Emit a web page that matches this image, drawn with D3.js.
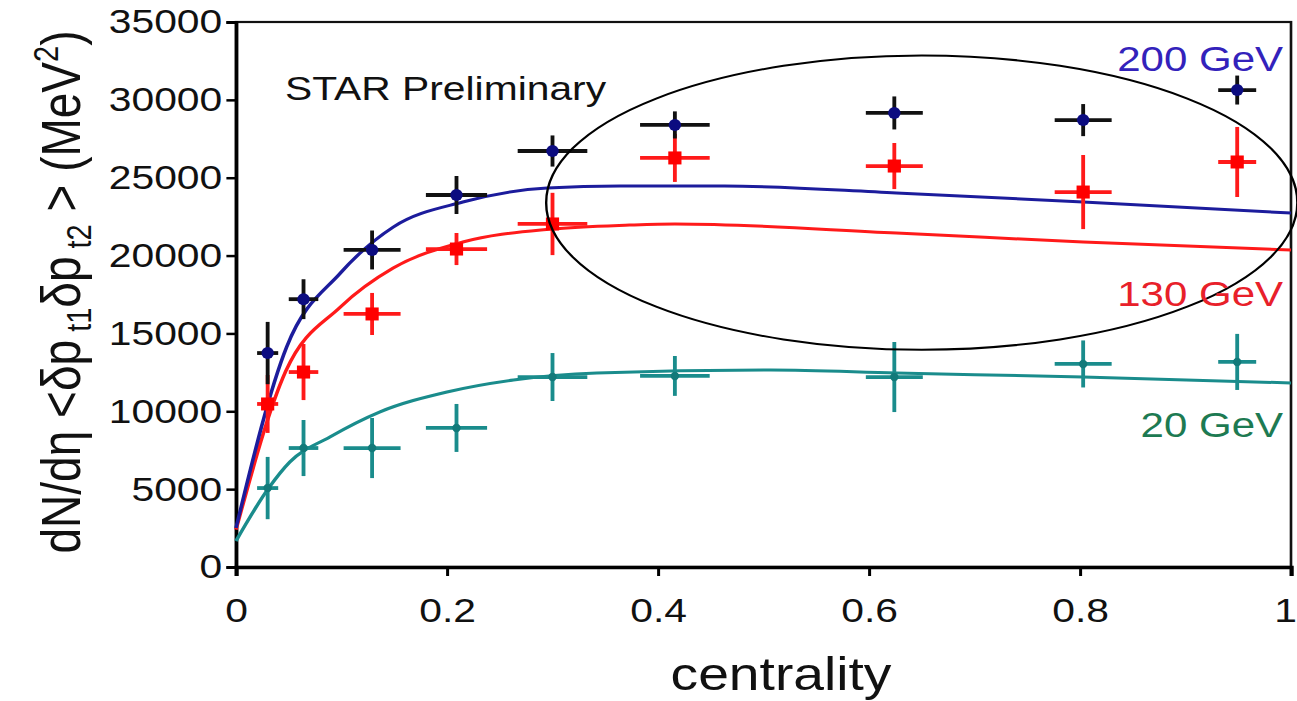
<!DOCTYPE html>
<html>
<head>
<meta charset="utf-8">
<script src="https://cdn.jsdelivr.net/npm/d3@7"></script>
<style>
  body { margin: 0; background: #ffffff; }
  text { font-family: "Liberation Sans", Arial, sans-serif; }
  .axis path, .axis line { stroke: #000; }
</style>
</head>
<body>
<div id="chart"></div>
<script>
// centrality bins (shared by the three energies)
var centrality = [0.030, 0.064, 0.129, 0.209, 0.300, 0.416, 0.624, 0.803, 0.949];
var centralityErr = [0.010, 0.014, 0.027, 0.029, 0.033, 0.033, 0.027, 0.027, 0.018];

// measured points
var data200 = [13740, 17200, 20360, 23890, 26715, 28390, 29160, 28700, 30630];
var err200 = [2000, 1280, 1250, 1220, 1000, 870, 1060, 1030, 930];
var data130 = [10470, 12520, 16250, 20420, 22030, 26270, 25750, 24080, 26010];
var err130 = [1860, 1800, 1350, 1030, 2000, 1540, 1480, 2380, 2250];
var data20 = [5070, 7640, 7640, 8930, 12200, 12270, 12200, 13040, 13170];
var err20 = [2000, 1800, 1930, 1540, 1540, 1280, 2250, 1510, 1800];

// model curves
var model200X = [0, 0.048, 0.099, 0.149, 0.215, 0.295, 0.364, 0.463, 0.626, 0.803, 1.0];
var model200Y = [2500, 14130, 18880, 21830, 23440, 24340, 24470, 24470, 24020, 23440, 22730];
var model130X = [0, 0.047, 0.099, 0.149, 0.215, 0.298, 0.373, 0.416, 0.626, 0.803, 1.0];
var model130Y = [2400, 12550, 16700, 19200, 20870, 21700, 21960, 22030, 21450, 20870, 20360];
var model20X = [0, 0.031, 0.051, 0.089, 0.136, 0.200, 0.263, 0.342, 0.507, 0.626, 0.803, 1.0];
var model20Y = [1670, 5070, 6740, 8350, 9950, 11240, 12010, 12460, 12650, 12460, 12200, 11820];

var xTicks = [0, 0.2, 0.4, 0.6, 0.8, 1];
var yTicks = [0, 5000, 10000, 15000, 20000, 25000, 30000, 35000];

// the original picture is stretched sideways, so draw in a narrower viewBox
var stretch = 1.2;
var width = 1297;
var height = 701;
var viewW = width / stretch;

var svg = d3.select("#chart")
  .append("svg")
  .attr("width", width)
  .attr("height", height)
  .attr("viewBox", "0 0 " + viewW + " " + height)
  .attr("preserveAspectRatio", "none");

var x = d3.scaleLinear().domain([0, 1]).range([236 / stretch, 1291 / stretch]);
var y = d3.scaleLinear().domain([0, 35000]).range([567, 22]);

// frame
svg.append("rect")
  .attr("x", x(0))
  .attr("y", y(35000))
  .attr("width", x(1) - x(0))
  .attr("height", y(0) - y(35000))
  .attr("fill", "none")
  .attr("stroke", "#111")
  .attr("stroke-width", 2.2);

// axes
var xAxis = d3.axisBottom(x).tickValues(xTicks).tickSize(9).tickPadding(22)
  .tickFormat(function(d) { return d3.format("")(d); });
var yAxis = d3.axisLeft(y).tickValues(yTicks).tickSize(8).tickPadding(3.5)
  .tickFormat(d3.format("d"));

var gx = svg.append("g")
  .attr("class", "axis")
  .attr("transform", "translate(0," + y(0) + ")")
  .call(xAxis);
var gy = svg.append("g")
  .attr("class", "axis")
  .attr("transform", "translate(" + x(0) + ",0)")
  .call(yAxis);

gx.select(".domain").attr("stroke-width", 3.5);
gy.select(".domain").attr("stroke-width", 3);
gx.selectAll(".tick line").attr("stroke-width", 2.5);
gy.selectAll(".tick line").attr("stroke-width", 2.5);
svg.selectAll(".axis text")
  .attr("fill", "#111")
  .style("font-size", "34px");
// the last label sits on the right edge, nudge it inside the picture
gx.selectAll(".tick text")
  .filter(function(d) { return d == 1; })
  .attr("dx", -5);

// axis titles
svg.append("text")
  .attr("x", 781 / stretch)
  .attr("y", 690)
  .attr("text-anchor", "middle")
  .style("font-size", "46px")
  .attr("fill", "#111")
  .text("centrality");

var yTitle = svg.append("text")
  .attr("transform", "translate(" + (80 / stretch) + ",292) rotate(-90)")
  .attr("text-anchor", "middle")
  .style("font-size", "46px")
  .attr("fill", "#111");
yTitle.append("tspan").text("dN/d\u03B7 <\u03B4p");
yTitle.append("tspan").attr("dy", 9).style("font-size", "29px").text(" t1");
yTitle.append("tspan").attr("dy", -9).text("\u03B4p");
yTitle.append("tspan").attr("dy", 9).style("font-size", "29px").text(" t2");
yTitle.append("tspan").attr("dy", -9).text(" > (MeV");
yTitle.append("tspan").attr("dy", -18).style("font-size", "29px").text("2");
yTitle.append("tspan").attr("dy", 18).text(")");

// model lines
var line = d3.line()
  .x(function(d) { return x(d[0]); })
  .y(function(d) { return y(d[1]); })
  .curve(d3.curveMonotoneX);

function drawModel(xs, ys, colour) {
  svg.append("path")
    .datum(d3.zip(xs, ys))
    .attr("d", line)
    .attr("fill", "none")
    .attr("stroke", colour)
    .attr("stroke-width", 3);
}

drawModel(model20X, model20Y, "#1a8c8c");
drawModel(model130X, model130Y, "#ff1a1a");
drawModel(model200X, model200Y, "#1c1c9c");

// error bars + markers
function drawPoints(values, errs, barColour, marker, markerColour) {
  var pts = d3.zip(centrality, centralityErr, values, errs);
  var g = svg.append("g");
  g.selectAll(".hbar").data(pts).enter().append("line")
    .attr("x1", function(d) { return x(d[0] - d[1]); })
    .attr("x2", function(d) { return x(d[0] + d[1]); })
    .attr("y1", function(d) { return y(d[2]); })
    .attr("y2", function(d) { return y(d[2]); })
    .attr("stroke", barColour)
    .attr("stroke-width", 3.8);
  g.selectAll(".vbar").data(pts).enter().append("line")
    .attr("x1", function(d) { return x(d[0]); })
    .attr("x2", function(d) { return x(d[0]); })
    .attr("y1", function(d) { return y(d[2] - d[3]); })
    .attr("y2", function(d) { return y(d[2] + d[3]); })
    .attr("stroke", barColour)
    .attr("stroke-width", 3.2);
  if (marker == "square") {
    g.selectAll(".mk").data(pts).enter().append("rect")
      .attr("x", function(d) { return x(d[0]) - 5.5; })
      .attr("y", function(d) { return y(d[2]) - 6.5; })
      .attr("width", 11)
      .attr("height", 13)
      .attr("fill", markerColour);
  }
  else {
    g.selectAll(".mk").data(pts).enter().append("ellipse")
      .attr("cx", function(d) { return x(d[0]); })
      .attr("cy", function(d) { return y(d[2]); })
      .attr("rx", marker == "dot" ? 5.2 : 3.5)
      .attr("ry", marker == "dot" ? 6 : 4.2)
      .attr("fill", markerColour);
  }
}

drawPoints(data20, err20, "#1a8c8c", "small", "#127a7a");
drawPoints(data130, err130, "#ff1a1a", "square", "#ff0000");
drawPoints(data200, err200, "#111111", "dot", "#0c0c80");

// annotation ellipse
svg.append("ellipse")
  .attr("cx", x(0.65))
  .attr("cy", y(23400))
  .attr("rx", x(0.356) - x(0))
  .attr("ry", y(0) - y(9450))
  .attr("fill", "none")
  .attr("stroke", "#000")
  .attr("stroke-width", 2);

// labels
svg.append("text")
  .attr("x", 285 / stretch)
  .attr("y", 100)
  .style("font-size", "34px")
  .attr("fill", "#111")
  .text("STAR Preliminary");

var labels = [["200 GeV", 71, "#3322bb"], ["130 GeV", 306, "#e8202a"], ["20 GeV", 437, "#1d7a52"]];
svg.selectAll(".energy").data(labels).enter().append("text")
  .attr("x", 1283 / stretch)
  .attr("y", function(d) { return d[1]; })
  .attr("text-anchor", "end")
  .style("font-size", "35px")
  .attr("fill", function(d) { return d[2]; })
  .text(function(d) { return d[0]; });
</script>
</body>
</html>
